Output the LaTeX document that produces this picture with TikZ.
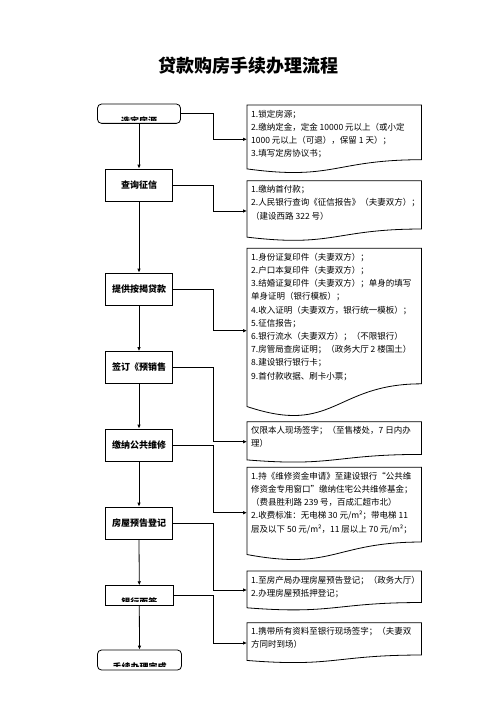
\documentclass[tikz,border=0pt]{standalone}
\usepackage{fontspec}
\setmainfont{Noto Sans CJK SC}
\usetikzlibrary{calc,arrows.meta}
\newcommand\ntext[2]{\parbox[c][#1][t]{166pt}{\raggedright\vspace*{4.6pt}#2}}
\newcommand\docshape[1]{\draw[docline] (#1.north west) -- (#1.north east) -- ($(#1.north east)!0.80!(#1.south east)$) .. controls ($(#1.north)!0.80!(#1.south)$) and ($(#1.north)!1.1075!(#1.south)$) .. ($(#1.north west)!0.934!(#1.south west)$) -- cycle;}
\tikzset{
  stepbox/.style={draw=black, line width=0.8pt, minimum width=66.3pt, minimum height=32pt, inner sep=0pt, font=\bfseries\fontsize{9}{10}\selectfont},
  endbox/.style={draw=black, line width=0.8pt, rounded corners=4pt, inner sep=0pt},
  lbl/.style={inner sep=0pt, font=\bfseries\fontsize{9}{10}\selectfont},
  note/.style={anchor=north west, inner xsep=4pt, inner ysep=0pt, minimum width=174pt, font=\fontsize{8.5}{13.2}\selectfont},
  docline/.style={draw=black, line width=0.8pt},
  arr/.style={draw=black, line width=0.8pt, -{Latex[length=4pt,width=3.6pt]}},
}
\begin{document}
\begin{tikzpicture}[x=1pt,y=-1pt]
\useasboundingbox (0,0) rectangle (496,702);
\fill[white] (0,0) rectangle (496,702);

\node[font=\bfseries\fontsize{18}{20}\selectfont] (title) at (248,66) {贷款购房手续办理流程};

% left column boxes
\node[endbox, minimum width=83pt, minimum height=19.3pt] (b1) at (139,113.7) {};
\node[stepbox] (b2) at (139,185) {查询征信};
\node[stepbox] (b3) at (139,289) {提供按揭贷款};
\node[stepbox] (b4) at (139,367.5) {签订《预销售};
\node[stepbox] (b5) at (139,445) {缴纳公共维修};
\node[stepbox] (b6) at (139,523) {房屋预告登记};
\node[draw=black, line width=0.8pt, inner sep=0pt, minimum width=67.6pt, minimum height=19.3pt] (b7) at (139.3,595.3) {};
\node[endbox, minimum width=84pt, minimum height=20pt] (b8) at (139.5,660) {};

% clipped labels
\begin{scope}
\clip (90,100) rectangle (190,120.7);
\node[lbl] (t1) at (139,121.2) {选定房源};
\end{scope}
\begin{scope}
\clip (100,580) rectangle (180,601);
\node[lbl] (t7) at (139.3,601.6) {银行面签};
\end{scope}
\begin{scope}
\clip (90,645) rectangle (190,666.7);
\node[lbl] (t8) at (139.5,667.2) {手续办理完成};
\end{scope}

% notes
\node[note, minimum height=68pt] (n1) at (247,105) {\ntext{68pt}{1.锁定房源；\\2.缴纳定金，定金 10000 元以上（或小定\\1000 元以上（可退），保留 1 天）；\\3.填写定房协议书；}};
\node[note, minimum height=60pt] (n2) at (247,180.7) {\ntext{60pt}{1.缴纳首付款；\\2.人民银行查询《征信报告》（夫妻双方）；\\（建设西路 322 号）}};
\node[note, minimum height=169pt] (n3) at (247,248.3) {\ntext{169pt}{1.身份证复印件（夫妻双方）；\\2.户口本复印件（夫妻双方）；\\3.结婚证复印件（夫妻双方）；单身的填写\\单身证明（银行模板）；\\4.收入证明（夫妻双方，银行统一模板）；\\5.征信报告；\\6.银行流水（夫妻双方）；（不限银行）\\7.房管局查房证明；（政务大厅 2 楼国土）\\8.建设银行银行卡；\\9.首付款收据、刷卡小票；}};
\node[note, minimum height=40.5pt] (n4) at (247,421.7) {\ntext{40.5pt}{仅限本人现场签字；（至售楼处，7 日内办\\理）}};
\node[note, minimum height=93pt] (n5) at (247,467.3) {\ntext{93pt}{1.持《维修资金申请》至建设银行“公共维\\修资金专用窗口”缴纳住宅公共维修基金；\\（费县胜利路 239 号，百成汇超市北）\\2.收费标准：无电梯 30 元/m²；带电梯 11\\层及以下 50 元/m²，11 层以上 70 元/m²；}};
\node[note, minimum height=39pt] (n6) at (247,571) {\ntext{39pt}{1.至房产局办理房屋预告登记；（政务大厅）\\2.办理房屋预抵押登记；}};
\node[note, minimum height=40pt] (n7) at (247,622.7) {\ntext{40pt}{1.携带所有资料至银行现场签字；（夫妻双\\方同时到场）}};

\docshape{n1}
\docshape{n2}
\docshape{n3}
\docshape{n4}
\docshape{n5}
\docshape{n6}
\docshape{n7}

% vertical flow
\draw[arr] (b1.south) -- (b2.north);
\draw[arr] (b2.south) -- (b3.north);
\draw[arr] (b3.south) -- (b4.north);
\draw[arr] (b4.south) -- (b5.north);
\draw[arr] (b5.south) -- (b6.north);
\draw[arr] (b6.south) -- (b7.north);
\draw[arr] (b7.south) -- (b8.north);

% side connectors
\coordinate (bus) at (213,0);
\coordinate (a1) at (247,139.3);
\coordinate (a2) at (247,211);
\coordinate (a3) at (247,330.7);
\coordinate (a4) at (247,441.7);
\coordinate (a5) at (247,512.7);
\coordinate (a6) at (247,590);
\coordinate (a7) at (247,643);
\draw[arr] (b1.east) -- (b1.east -| bus) |- (a1);
\draw[arr] (b2.east) -- (b2.east -| bus) |- (a2);
\draw[arr] (b3.east) -- (b3.east -| bus) |- (a3);
\draw[arr] (b4.east) -- (b4.east -| bus) |- (a4);
\draw[arr] (b5.east) -- (b5.east -| bus) |- (a5);
\draw[arr] (b6.east) -- (b6.east -| bus) |- (a6);
\draw[arr] (b7.east) -- (b7.east -| bus) |- (a7);
\end{tikzpicture}
\end{document}
